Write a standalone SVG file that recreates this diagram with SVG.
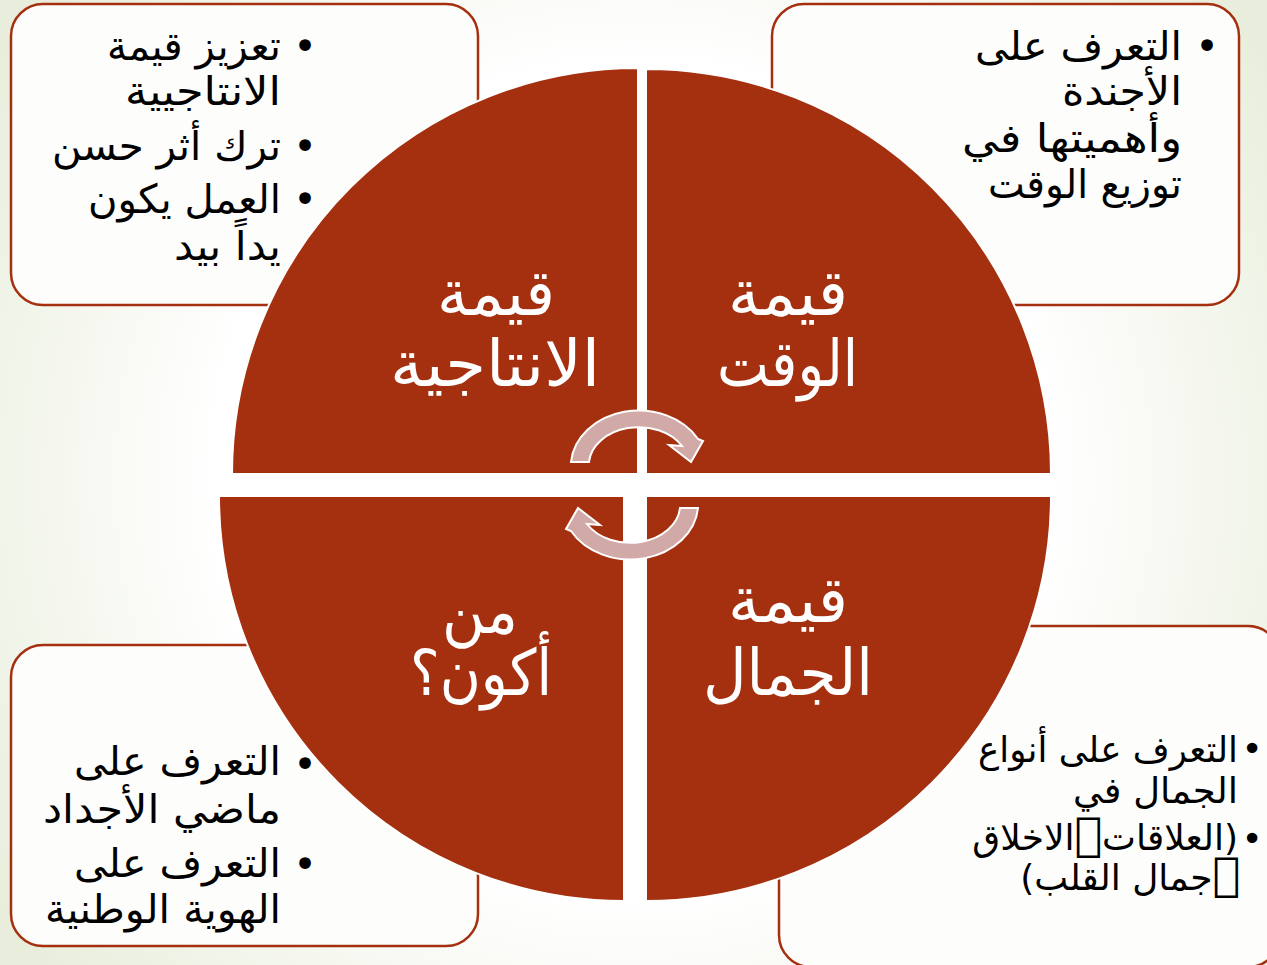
<svg xmlns="http://www.w3.org/2000/svg" width="1267" height="965" viewBox="0 0 1267 965">
<defs>
<radialGradient id="bg" cx="633" cy="480" r="760" gradientUnits="userSpaceOnUse">
<stop offset="0.55" stop-color="#FFFFFF"/>
<stop offset="1" stop-color="#E9EEDC"/>
</radialGradient>
<style>
.box{fill:#FDFDFB;stroke:#A5300F;stroke-width:2.5}
.quad{fill:#A5300F;stroke:#FFFFFF;stroke-width:2}
.arrow{fill:#D1A9A6;stroke:#FFFFFF;stroke-width:2;stroke-linejoin:miter}
.t{font-family:"DejaVu Sans",sans-serif;font-size:40px;fill:#000000}
.ts{font-family:"DejaVu Sans",sans-serif;font-size:36px;fill:#000000}
.tofu{font-family:"DejaVu Sans",sans-serif;font-size:46px}
.c{font-family:"DejaVu Sans",sans-serif;font-size:64px;fill:#FFFFFF}
</style>
</defs>
<rect x="0" y="0" width="1267" height="965" fill="url(#bg)"/>

<g id="box-tl">
<rect class="box" x="11" y="4" width="467" height="301" rx="32"/>
<text class="t" x="305" y="60" text-anchor="middle">•</text>
<text class="t" x="305" y="160" text-anchor="middle">•</text>
<text class="t" x="305" y="213" text-anchor="middle">•</text>
<text class="t" x="107" y="60" textLength="174" lengthAdjust="spacingAndGlyphs">تعزيز قيمة</text>
<text class="t" x="125" y="105" textLength="156" lengthAdjust="spacingAndGlyphs">الانتاجيية</text>
<text class="t" x="52" y="160" textLength="229" lengthAdjust="spacingAndGlyphs">ترك أثر حسن</text>
<text class="t" x="88" y="213" textLength="193" lengthAdjust="spacingAndGlyphs">العمل يكون</text>
<text class="t" x="174" y="260" textLength="107" lengthAdjust="spacingAndGlyphs">يداً بيد</text>
</g>

<g id="box-tr">
<rect class="box" x="772" y="4" width="467" height="301" rx="32"/>
<text class="t" x="1207" y="60" text-anchor="middle">•</text>
<text class="t" x="975" y="60" textLength="207" lengthAdjust="spacingAndGlyphs">التعرف على</text>
<text class="t" x="1062" y="105" textLength="120" lengthAdjust="spacingAndGlyphs">الأجندة</text>
<text class="t" x="962" y="152" textLength="220" lengthAdjust="spacingAndGlyphs">وأهميتها في</text>
<text class="t" x="988" y="198" textLength="194" lengthAdjust="spacingAndGlyphs">توزيع الوقت</text>
</g>

<g id="box-bl">
<rect class="box" x="11" y="645" width="467" height="301" rx="32"/>
<text class="t" x="305" y="778" text-anchor="middle">•</text>
<text class="t" x="305" y="878" text-anchor="middle">•</text>
<text class="t" x="74" y="775" textLength="207" lengthAdjust="spacingAndGlyphs">التعرف على</text>
<text class="t" x="43" y="823" textLength="238" lengthAdjust="spacingAndGlyphs">ماضي الأجداد</text>
<text class="t" x="74" y="877" textLength="207" lengthAdjust="spacingAndGlyphs">التعرف على</text>
<text class="t" x="45" y="923" textLength="236" lengthAdjust="spacingAndGlyphs">الهوية الوطنية</text>
</g>

<g id="box-br">
<rect class="box" x="779" y="626" width="501" height="341" rx="32"/>
<text class="ts" x="1252" y="761" text-anchor="middle">•</text>
<text class="ts" x="1252" y="851" text-anchor="middle">•</text>
<text class="ts" x="978" y="762" textLength="260" lengthAdjust="spacingAndGlyphs">التعرف على أنواع</text>
<text class="ts" x="1073" y="803" textLength="165" lengthAdjust="spacingAndGlyphs">الجمال في</text>
<text class="ts" x="1238" y="850" direction="rtl" text-anchor="start">(العلاقات<tspan class="tofu">&#xF0A7;</tspan>الاخلاق</text>
<text class="ts" x="1240" y="890" direction="rtl" text-anchor="start"><tspan class="tofu">&#xF0A7;</tspan>جمال القلب)</text>
</g>

<g id="quad-tl">
<path class="quad" d="M638,474 L232,474 A406,406 0 0 1 638,68 Z"/>
<text class="c" x="437" y="315" textLength="118" lengthAdjust="spacingAndGlyphs">قيمة</text>
<text class="c" x="390" y="386" textLength="210" lengthAdjust="spacingAndGlyphs">الانتاجية</text>
</g>
<g id="quad-tr">
<path class="quad" d="M646,474 L646,69 A405,405 0 0 1 1051,474 Z"/>
<text class="c" x="728" y="315" textLength="120" lengthAdjust="spacingAndGlyphs">قيمة</text>
<text class="c" x="717" y="386" textLength="141" lengthAdjust="spacingAndGlyphs">الوقت</text>
</g>
<g id="quad-bl">
<path class="quad" d="M624,496 L624,901 A405,405 0 0 1 219,496 Z"/>
<text class="c" x="442" y="633" textLength="76" lengthAdjust="spacingAndGlyphs">من</text>
<text class="c" x="410" y="695" textLength="142" lengthAdjust="spacingAndGlyphs">أكون؟</text>
</g>
<g id="quad-br">
<path class="quad" d="M646,496 L1051,496 A405,405 0 0 1 646,901 Z"/>
<text class="c" x="728" y="622" textLength="120" lengthAdjust="spacingAndGlyphs">قيمة</text>
<text class="c" x="703" y="695" textLength="170" lengthAdjust="spacingAndGlyphs">الجمال</text>
</g>

<g id="connectors">
<path id="arrow-top" class="arrow" d="M571,462 A68,56 0 0 1 698,439 L703,441 L691,462 L669,445 L682,446 A50,38 0 0 0 589,462 Z"/>
<path id="arrow-bottom" class="arrow" transform="rotate(180 634.5 485)" d="M571,462 A68,56 0 0 1 698,439 L703,441 L691,462 L669,445 L682,446 A50,38 0 0 0 589,462 Z"/>
</g>
</svg>
